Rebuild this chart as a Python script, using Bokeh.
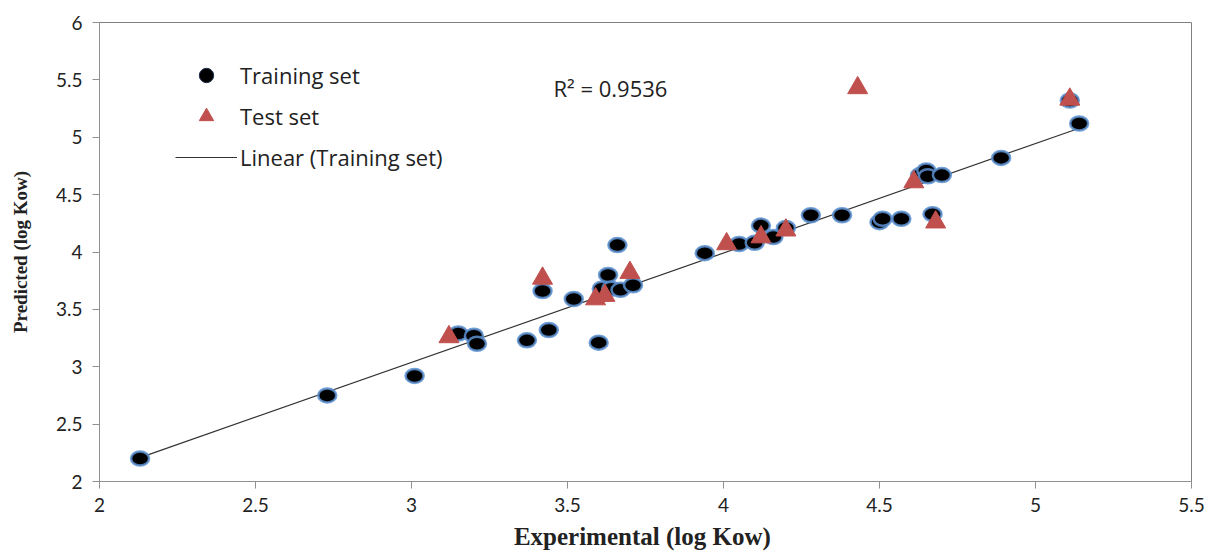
import numpy as np
from bokeh.plotting import figure
from bokeh.models import Range1d, FixedTicker, Legend, LegendItem, Label
from bokeh.embed import file_html
from bokeh.resources import INLINE

# Training set (experimental, predicted)
train_x = [2.13, 2.73, 3.01, 3.15, 3.20, 3.21, 3.37, 3.42, 3.44, 3.52, 3.60, 3.61, 3.63,
           3.64, 3.66, 3.67, 3.71, 3.94, 4.05, 4.10, 4.12, 4.16, 4.20, 4.28, 4.38, 4.50,
           4.51, 4.57, 4.63, 4.65, 4.655, 4.67, 4.70, 4.89, 5.11, 5.14]
train_y = [2.20, 2.75, 2.92, 3.29, 3.27, 3.20, 3.23, 3.66, 3.32, 3.59, 3.21, 3.68, 3.80,
           3.68, 4.06, 3.67, 3.71, 3.99, 4.07, 4.08, 4.23, 4.13, 4.21, 4.32, 4.32, 4.26,
           4.29, 4.29, 4.67, 4.71, 4.66, 4.33, 4.67, 4.82, 5.32, 5.12]

# Test set
test_x = [3.12, 3.42, 3.59, 3.62, 3.70, 4.01, 4.12, 4.20, 4.43, 4.61, 4.68, 5.11]
test_y = [3.26, 3.77, 3.59, 3.62, 3.82, 4.07, 4.13, 4.19, 5.43, 4.61, 4.26, 5.33]

x_ticks = [2, 2.5, 3, 3.5, 4, 4.5, 5, 5.5]
x_tick_labels = ["2", "2.5", "3", "3.5", "4", "4.5", "5", "5.5"]
y_ticks = [2, 2.5, 3, 3.5, 4, 4.5, 5, 5.5, 6]
y_tick_labels = ["2", "2.5", "3", "3.5", "4", "4.5", "5", "5.5", "6"]
r2_text = "R² = 0.9536"

slope, intercept = np.polyfit(train_x, train_y, 1)
fit_x = [min(train_x), max(train_x)]
fit_y = [slope * v + intercept for v in fit_x]

p = figure(width=1213, height=552, output_backend="svg", toolbar_location=None,
           x_range=Range1d(2, 5.5), y_range=Range1d(2, 6),
           min_border_left=99, min_border_right=22, min_border_top=22, min_border_bottom=71)
p.grid.visible = False
p.outline_line_color = "#808080"
p.outline_line_width = 1
p.background_fill_color = "white"
p.border_fill_color = "white"

for ax in (p.xaxis[0], p.yaxis[0]):
    ax.axis_line_color = "#909090"
    ax.major_tick_line_color = "#909090"
    ax.major_tick_in = 0
    ax.major_tick_out = 7
    ax.minor_tick_line_color = None
    ax.major_label_text_font = "Lato"
    ax.major_label_text_font_size = "19px"
    ax.major_label_text_color = "#222222"
    ax.axis_label_text_font = "Liberation Serif"
    ax.axis_label_text_font_style = "bold"
    ax.axis_label_text_color = "#222222"

p.xaxis.ticker = FixedTicker(ticks=x_ticks)
p.yaxis.ticker = FixedTicker(ticks=y_ticks)
p.xaxis.major_label_overrides = dict(zip(x_ticks, x_tick_labels))
p.yaxis.major_label_overrides = dict(zip(y_ticks, y_tick_labels))
p.xaxis.axis_label = "Experimental  (log Kow)"
p.yaxis.axis_label = "Predicted (log Kow)"
p.xaxis.axis_label_text_font_size = "25px"
p.yaxis.axis_label_text_font_size = "19px"
p.xaxis.major_label_standoff = 9
p.yaxis.major_label_standoff = 10
p.xaxis.axis_label_standoff = 8
p.yaxis.axis_label_standoff = 22

line_r = p.line(fit_x, fit_y, line_color="#333333", line_width=1.2)

train_r = p.ellipse(x=train_x, y=train_y, width=18, height=14,
                    width_units="screen", height_units="screen",
                    fill_color="black", line_color="#5b8fd0", line_width=2.5, line_alpha=0.85)

test_r = p.scatter(x=test_x, y=test_y, marker="triangle", size=20,
                   fill_color="#c0504d", line_color="#c0504d")

# legend keys (no data drawn on the plot)
train_key = p.scatter(x=[np.nan], y=[np.nan], marker="circle", size=14,
                      fill_color="black", line_color="#1f2f50", line_width=1)
test_key = p.scatter(x=[np.nan], y=[np.nan], marker="triangle", size=14,
                     fill_color="#c0504d", line_color="#c0504d")

legend = Legend(items=[
    LegendItem(label="Training set", renderers=[train_key]),
    LegendItem(label="Test set", renderers=[test_key]),
    LegendItem(label="Linear (Training set)", renderers=[line_r]),
], location=(76, 306))
legend.border_line_color = None
legend.background_fill_alpha = 0
legend.label_text_font = "Open Sans"
legend.label_text_font_size = "22px"
legend.label_text_color = "#222222"
legend.glyph_width = 62
legend.glyph_height = 36
legend.spacing = 5
legend.padding = 0
legend.label_standoff = 3
p.add_layout(legend)

p.add_layout(Label(x=3.455, y=5.43, text=r2_text, text_font="Open Sans",
                   text_font_size="22px", text_color="#222222",
                   text_baseline="middle", text_align="left"))

open("out.html", "w").write(file_html(p, INLINE))
